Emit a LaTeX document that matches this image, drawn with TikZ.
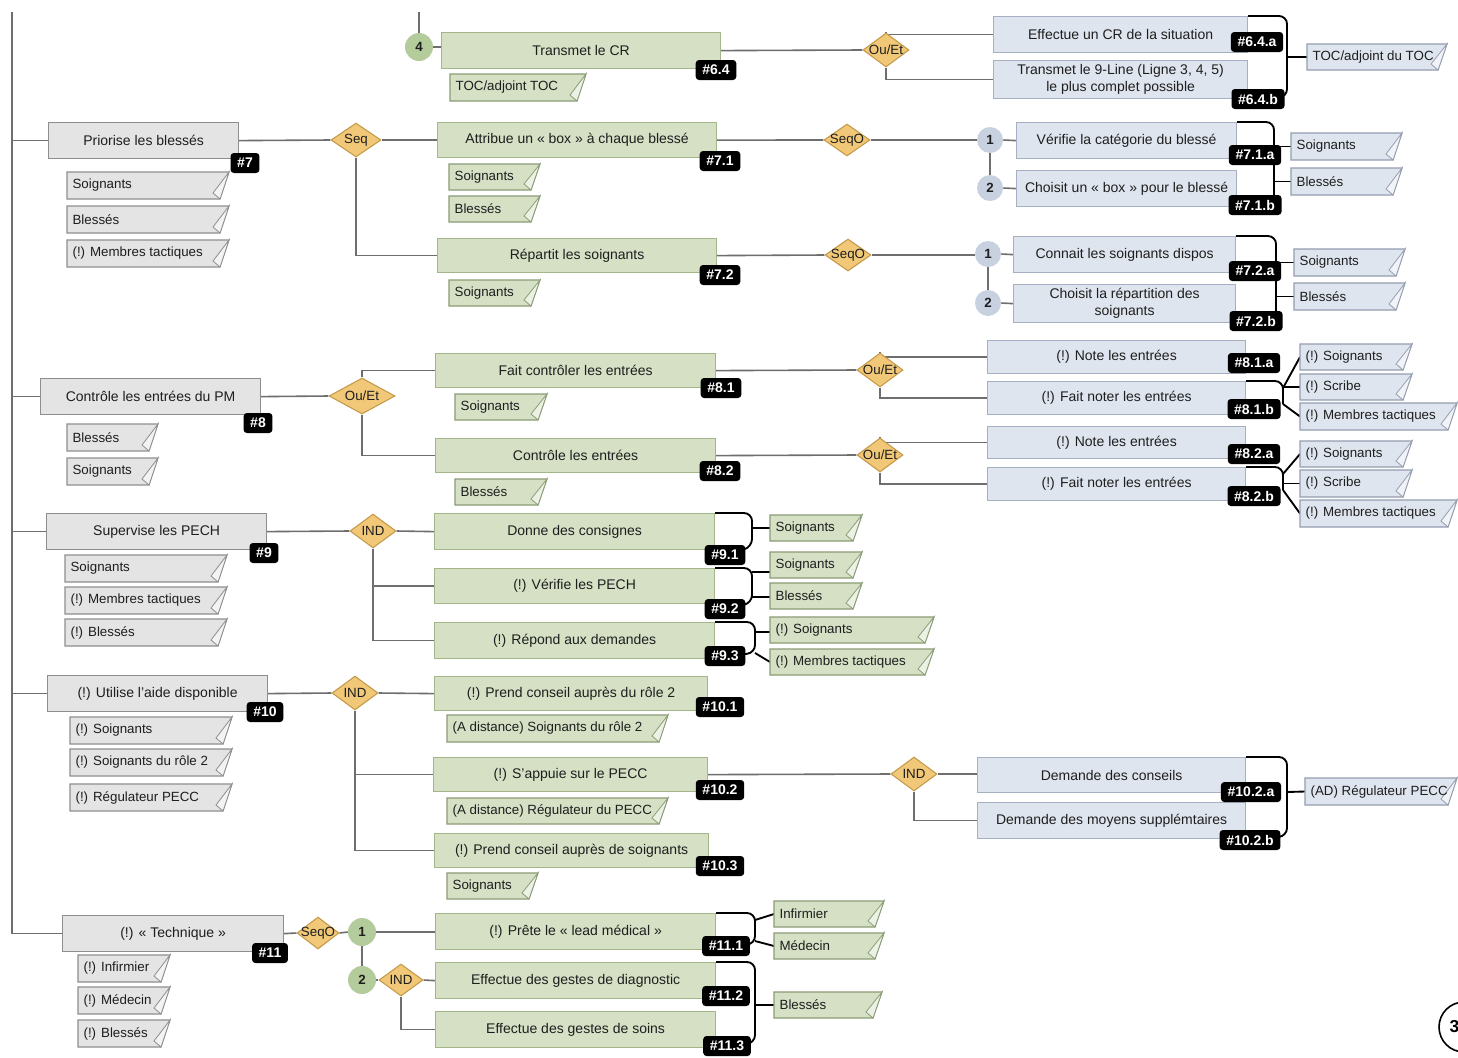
\documentclass[tikz,border=0pt]{standalone}
\usepackage{fontspec}
\setmainfont{Liberation Sans}
\usetikzlibrary{shapes.geometric}
\pgfdeclarelayer{bg}
\pgfsetlayers{bg,main}
\definecolor{gfill}{HTML}{D5E0C5}
\definecolor{gdraw}{HTML}{A3B68A}
\definecolor{bfill}{HTML}{DFE5EF}
\definecolor{bdraw}{HTML}{A6B0C2}
\definecolor{yfill}{HTML}{E4E4E4}
\definecolor{ydraw}{HTML}{8E8E8E}
\definecolor{dfill}{HTML}{F1C877}
\definecolor{ddraw}{HTML}{C49A4A}
\definecolor{cgreen}{HTML}{B4CC9C}
\definecolor{cblue}{HTML}{C7D1E0}
\definecolor{conncol}{HTML}{6E6E6E}
\definecolor{txt}{HTML}{1E1E1E}
\tikzset{
 box/.style={rectangle, inner sep=0pt, line width=0.9pt, font=\fontsize{10.5}{13}\selectfont, text=txt, align=center, anchor=north west},
 graybox/.style={box, fill=yfill, draw=ydraw},
 greenbox/.style={box, fill=gfill, draw=gdraw},
 bluebox/.style={box, fill=bfill, draw=bdraw},
 badge/.style={fill=black, rounded corners=2.5pt, text=white, font=\fontsize{10.5}{12}\selectfont\bfseries, inner xsep=5pt, inner ysep=1pt, minimum height=15pt},
 gate/.style={diamond, fill=dfill, draw=ddraw, line width=0.8pt, inner sep=0pt, font=\fontsize{10}{11}\selectfont, text=txt},
 gcirc/.style={circle, fill=cgreen, inner sep=0pt, minimum size=21pt, font=\fontsize{10}{12}\selectfont\bfseries, text=txt},
 bcirc/.style={circle, fill=cblue, inner sep=0pt, minimum size=19.5pt, font=\fontsize{10}{12}\selectfont\bfseries, text=txt},
 conn/.style={draw=conncol, line width=1.2pt},
 brace/.style={draw=black, line width=1.4pt, rounded corners=6pt},
 link/.style={draw=black, line width=1.4pt},
 tagtxt/.style={inner xsep=4pt, inner ysep=0pt, font=\fontsize{10}{12}\selectfont, text=txt},
 ytag/.style={fill=yfill, draw=ydraw, line width=0.8pt},
 gtag/.style={fill=gfill, draw=gdraw!85!black, line width=0.8pt},
 btag/.style={fill=bfill, draw=bdraw!90!black, line width=0.8pt},
 yfold/.style={fill=white!55!yfill, draw=ydraw, line width=0.6pt},
 gfold/.style={fill=white!55!gfill, draw=gdraw!85!black, line width=0.6pt},
 bfold/.style={fill=white!55!bfill, draw=bdraw!90!black, line width=0.6pt},
}
\newcommand\taskbox[7]{\node[#1, minimum width={(#5-#3)*0.75pt}, minimum height={(#6-#4)*0.75pt}] (#2) at (#3,#4) {#7};}
\newcommand\tagbox[7]{%
 \filldraw[#1tag] (#3,#4) -- (#5,#4) -- ({#5-9},#6) -- (#3,#6) -- cycle;
 \filldraw[#1fold] (#5,#4) -- ({#5-9},#6) -- ({#5-16},{#6-6}) -- cycle;
 \node[tagtxt, anchor=west] (#2) at (#3,{(#4+#6)/2}) {#7};}
\newcommand\gate[6]{\node[gate, minimum width=#4*0.75pt, minimum height=#5*0.75pt] (#1) at (#2,#3) {\makebox[0pt]{#6}};}
\begin{document}
\begin{tikzpicture}[x=0.75pt,y=-0.75pt]
\begin{pgfonlayer}{bg}
\fill[white] (0,0) rectangle (1458,1057);
\end{pgfonlayer}
\useasboundingbox (0,0) rectangle (1458,1057);

% ---------- gray main tasks
\taskbox{graybox}{p7}{48}{122}{238}{158}{Priorise les blessés}
\taskbox{graybox}{c8}{40}{378}{260}{414}{Contrôle les entrées du PM}
\taskbox{graybox}{s9}{46}{513}{266}{549}{Supervise les PECH}
\taskbox{graybox}{u10}{47}{675}{267}{711}{(!) Utilise l’aide disponible}
\taskbox{graybox}{t11}{62}{915}{283}{951}{(!) « Technique »}

% ---------- green subtasks
\taskbox{greenbox}{t64}{441}{32}{720}{68}{Transmet le CR}
\taskbox{greenbox}{a71}{437}{122}{716}{157}{Attribue un « box » à chaque blessé}
\taskbox{greenbox}{r72}{437}{238}{716}{272}{Répartit les soignants}
\taskbox{greenbox}{f81}{435}{353}{715}{387}{Fait contrôler les entrées}
\taskbox{greenbox}{c82}{435}{438}{715}{472}{Contrôle les entrées}
\taskbox{greenbox}{g91}{434}{513}{714}{549}{Donne des consignes}
\taskbox{greenbox}{g92}{434}{568}{714}{603}{(!) Vérifie les PECH}
\taskbox{greenbox}{g93}{434}{622}{714}{658}{(!) Répond aux demandes}
\taskbox{greenbox}{g101}{434}{676}{707}{710}{(!) Prend conseil auprès du rôle 2}
\taskbox{greenbox}{g102}{433}{757}{707}{791}{(!) S’appuie sur le PECC}
\taskbox{greenbox}{g103}{434}{833}{708}{867}{(!) Prend conseil auprès de soignants}
\taskbox{greenbox}{g111}{435}{913}{715}{949}{(!) Prête le « lead médical »}
\taskbox{greenbox}{g112}{435}{962}{715}{998}{Effectue des gestes de diagnostic}
\taskbox{greenbox}{g113}{435}{1011}{715}{1047}{Effectue des gestes de soins}

% ---------- blue sub-subtasks
\taskbox{bluebox}{e64a}{993}{16}{1247}{52}{Effectue un CR de la situation}
\taskbox{bluebox}{e64b}{993}{60}{1247}{98}{Transmet le 9-Line (Ligne 3, 4, 5)\\le plus complet possible}
\taskbox{bluebox}{v71a}{1016}{122}{1236}{158}{Vérifie la catégorie du blessé}
\taskbox{bluebox}{v71b}{1016}{170}{1236}{206}{Choisit un « box » pour le blessé}
\taskbox{bluebox}{v72a}{1013}{236}{1235}{272}{Connait les soignants dispos}
\taskbox{bluebox}{v72b}{1013}{284}{1235}{322}{Choisit la répartition des\\soignants}
\taskbox{bluebox}{n81a}{987}{340}{1245}{373}{(!) Note les entrées}
\taskbox{bluebox}{n81b}{987}{381}{1245}{414}{(!) Fait noter les entrées}
\taskbox{bluebox}{n82a}{987}{426}{1245}{458}{(!) Note les entrées}
\taskbox{bluebox}{n82b}{987}{467}{1245}{500}{(!) Fait noter les entrées}
\taskbox{bluebox}{v102a}{977}{757}{1245}{792}{Demande des conseils}
\taskbox{bluebox}{v102b}{977}{802}{1245}{838}{Demande des moyens supplémtaires}

% ---------- gates
\gate{d64}{886}{50}{46}{34}{Ou/Et}
\gate{d7}{356}{140}{50}{34}{Seq}
\gate{d71}{847}{140}{46}{32}{SeqO}
\gate{d72}{848}{255}{46}{32}{SeqO}
\gate{d8}{362}{396}{66}{36}{Ou/Et}
\gate{d81}{880}{370}{46}{34}{Ou/Et}
\gate{d82}{880}{455}{46}{34}{Ou/Et}
\gate{d9}{373}{531}{46}{34}{IND}
\gate{d10}{355}{693}{46}{34}{IND}
\gate{d102}{914}{774}{46}{34}{IND}
\gate{d11}{318}{933}{42}{32}{SeqO}
\gate{d112}{401}{980}{44}{32}{IND}

% ---------- circles
\node[gcirc] (c4) at (419,47) {4};
\node[bcirc] (c711) at (990,140) {1};
\node[bcirc] (c712) at (990,188) {2};
\node[bcirc] (c721) at (988,254) {1};
\node[bcirc] (c722) at (988,303) {2};
\node[gcirc] (c111) at (362,932) {1};
\node[gcirc] (c112) at (362,980) {2};
\node[circle, draw=black, line width=1.2pt, fill=white, minimum size=37.5pt, inner sep=0pt, font=\fontsize{13}{15}\selectfont\bfseries] (c3) at (1464,1027) {\makebox[0pt][r]{3\hspace{3.5pt}}};

% ---------- tags
\tagbox{g}{k64}{450}{74}{586}{101}{TOC/adjoint TOC}
\tagbox{b}{k64r}{1307}{44}{1447}{70}{TOC/adjoint du TOC}
\tagbox{y}{k7a}{67}{172}{229}{199}{Soignants}
\tagbox{y}{k7b}{67}{206}{229}{233}{Blessés}
\tagbox{y}{k7c}{67}{240}{229}{267}{(!) Membres tactiques}
\tagbox{g}{k71a}{449}{164}{540}{190}{Soignants}
\tagbox{g}{k71b}{449}{196}{540}{222}{Blessés}
\tagbox{b}{k71s}{1291}{133}{1402}{160}{Soignants}
\tagbox{b}{k71b2}{1291}{168}{1402}{195}{Blessés}
\tagbox{g}{k72a}{449}{280}{540}{306}{Soignants}
\tagbox{b}{k72s}{1294}{249}{1405}{276}{Soignants}
\tagbox{b}{k72b}{1294}{283}{1405}{310}{Blessés}
\tagbox{y}{k8a}{67}{424}{158}{451}{Blessés}
\tagbox{y}{k8b}{67}{458}{158}{485}{Soignants}
\tagbox{g}{k81}{455}{394}{547}{420}{Soignants}
\tagbox{g}{k82}{455}{479}{547}{505}{Blessés}
\tagbox{b}{k81s}{1300}{344}{1412}{370}{(!) Soignants}
\tagbox{b}{k81c}{1300}{374}{1412}{400}{(!) Scribe}
\tagbox{b}{k81m}{1300}{403}{1457}{430}{(!) Membres tactiques}
\tagbox{b}{k82s}{1300}{441}{1412}{467}{(!) Soignants}
\tagbox{b}{k82c}{1300}{470}{1412}{497}{(!) Scribe}
\tagbox{b}{k82m}{1300}{500}{1457}{527}{(!) Membres tactiques}
\tagbox{y}{k9a}{65}{555}{227}{582}{Soignants}
\tagbox{y}{k9b}{65}{587}{227}{614}{(!) Membres tactiques}
\tagbox{y}{k9c}{65}{619}{227}{646}{(!) Blessés}
\tagbox{g}{k91}{770}{515}{862}{541}{Soignants}
\tagbox{g}{k92s}{770}{552}{862}{578}{Soignants}
\tagbox{g}{k92b}{770}{583}{862}{609}{Blessés}
\tagbox{g}{k93s}{770}{617}{934}{643}{(!) Soignants}
\tagbox{g}{k93m}{770}{649}{934}{675}{(!) Membres tactiques}
\tagbox{y}{k10a}{70}{717}{232}{744}{(!) Soignants}
\tagbox{y}{k10b}{70}{749}{232}{776}{(!) Soignants du rôle 2}
\tagbox{y}{k10c}{70}{784}{232}{811}{(!) Régulateur PECC}
\tagbox{g}{k101}{447}{715}{668}{742}{(A distance) Soignants du rôle 2}
\tagbox{g}{k102}{447}{798}{668}{824}{(A distance) Régulateur du PECC}
\tagbox{g}{k103}{447}{873}{538}{899}{Soignants}
\tagbox{b}{k102r}{1305}{778}{1457}{805}{(AD) Régulateur PECC}
\tagbox{y}{k11a}{78}{955}{170}{982}{(!) Infirmier}
\tagbox{y}{k11b}{78}{987}{170}{1014}{(!) Médecin}
\tagbox{y}{k11c}{78}{1020}{170}{1047}{(!) Blessés}
\tagbox{g}{k111i}{774}{901}{884}{927}{Infirmier}
\tagbox{g}{k111m}{774}{933}{884}{959}{Médecin}
\tagbox{g}{k112}{774}{992}{882}{1018}{Blessés}

% ---------- badges
\node[badge] (b64) at (716,70) {\#6.4};
\node[badge] (b64a) at (1257,42) {\#6.4.a};
\node[badge] (b64b) at (1258,99) {\#6.4.b};
\node[badge] (b7) at (245,163) {\#7};
\node[badge] (b71) at (720,161) {\#7.1};
\node[badge] (b71a) at (1255,155) {\#7.1.a};
\node[badge] (b71b) at (1255,205) {\#7.1.b};
\node[badge] (b72) at (720,275) {\#7.2};
\node[badge] (b72a) at (1255,271) {\#7.2.a};
\node[badge] (b72b) at (1256,321) {\#7.2.b};
\node[badge] (b8) at (258,423) {\#8};
\node[badge] (b81) at (721,388) {\#8.1};
\node[badge] (b81a) at (1254,363) {\#8.1.a};
\node[badge] (b81b) at (1254,409) {\#8.1.b};
\node[badge] (b82) at (720,471) {\#8.2};
\node[badge] (b82a) at (1254,454) {\#8.2.a};
\node[badge] (b82b) at (1254,496) {\#8.2.b};
\node[badge] (b9) at (264,553) {\#9};
\node[badge] (b91) at (725,555) {\#9.1};
\node[badge] (b92) at (725,609) {\#9.2};
\node[badge] (b93) at (725,656) {\#9.3};
\node[badge] (b10) at (265,712) {\#10};
\node[badge] (b101) at (720,707) {\#10.1};
\node[badge] (b102) at (720,790) {\#10.2};
\node[badge] (b103) at (720,866) {\#10.3};
\node[badge] (b102a) at (1251,792) {\#10.2.a};
\node[badge] (b102b) at (1250,840) {\#10.2.b};
\node[badge] (b11) at (270,953) {\#11};
\node[badge] (b111) at (726,946) {\#11.1};
\node[badge] (b112) at (726,996) {\#11.2};
\node[badge] (b113) at (727,1046) {\#11.3};

% ---------- connectors and braces (behind)
\begin{pgfonlayer}{bg}
\coordinate (sp) at (12,12);
\coordinate (top4) at (419,12);
\draw[conn] (sp) |- (t11.west);
\draw[conn] (p7.west -| sp) -- (p7.west);
\draw[conn] (c8.west -| sp) -- (c8.west);
\draw[conn] (s9.west -| sp) -- (s9.west);
\draw[conn] (u10.west -| sp) -- (u10.west);
% 6.4
\draw[conn] (top4) -- (c4.north);
\draw[conn] (c4.east) -- (c4.east -| t64.west);
\draw[conn] (t64.east) -- (d64.west);
\draw[conn] (d64.north) |- (e64a.west);
\draw[conn] (d64.south) |- (e64b.west);
% 7
\draw[conn] (p7.east) -- (d7.west);
\draw[conn] (d7.east) -- (d7.east -| a71.west);
\draw[conn] (d7.south) |- (r72.west);
\draw[conn] (a71.east) -- (d71.west);
\draw[conn] (d71.east) -- (c711.west);
\draw[conn] (c711.east) -- (v71a.west);
\draw[conn] (c711.south) -- (c712.north);
\draw[conn] (c712.east) -- (v71b.west);
\draw[conn] (r72.east) -- (d72.west);
\draw[conn] (d72.east) -- (d72.east -| c721.west);
\draw[conn] (c721.east) -- (v72a.west);
\draw[conn] (c721.south) -- (c722.north);
\draw[conn] (c722.east) -- (v72b.west);
% 8
\draw[conn] (c8.east) -- (d8.west);
\draw[conn] (d8.north) |- (f81.west);
\draw[conn] (d8.south) |- (c82.west);
\draw[conn] (f81.east) -- (d81.west);
\draw[conn] (d81.north) |- (n81a.west);
\draw[conn] (d81.south) |- (n81b.west);
\draw[conn] (c82.east) -- (d82.west);
\draw[conn] (d82.north) |- (n82a.west);
\draw[conn] (d82.south) |- (n82b.west);
% 9
\draw[conn] (s9.east) -- (d9.west);
\draw[conn] (d9.east) -- (g91.west);
\draw[conn] (d9.south) |- (g92.west);
\draw[conn] (d9.south) |- (g93.west);
% 10
\draw[conn] (u10.east) -- (d10.west);
\draw[conn] (d10.east) -- (g101.west);
\draw[conn] (d10.south) |- (g102.west);
\draw[conn] (d10.south) |- (g103.west);
\draw[conn] (g102.east) -- (d102.west);
\draw[conn] (d102.east) -- (d102.east -| v102a.west);
\draw[conn] (d102.south) |- (v102b.west);
% 11
\draw[conn] (t11.east) -- (d11.west);
\draw[conn] (d11.east) -- (c111.west);
\draw[conn] (c111.east) -- (c111.east -| g111.west);
\draw[conn] (c111.south) -- (c112.north);
\draw[conn] (c112.east) -- (d112.west);
\draw[conn] (d112.east) -- (g112.west);
\draw[conn] (d112.south) |- (g113.west);

% braces
\coordinate (j64) at (1287,57);
\draw[brace] (e64a.north east) -- (1287,16) -- (1287,97) -- (b64b.center);
\draw[link] (j64) -- (k64r.west);

\coordinate (j71a) at (1274,146.5);
\coordinate (j71b) at (1274,181.5);
\draw[brace] (v71a.north east) -- (1274,122) -- (1274,203) -- (b71b.center);
\draw[link] (j71a) -- (k71s.west);
\draw[link] (j71b) -- (k71b2.west);

\coordinate (j72a) at (1276,262.5);
\coordinate (j72b) at (1276,296.5);
\draw[brace] (v72a.north east) -- (1276,236) -- (1276,318) -- (b72b.center);
\draw[link] (j72a) -- (k72s.west);
\draw[link] (j72b) -- (k72b.west);

\coordinate (j81a) at (1283,388);
\coordinate (j81b) at (1283,404);
\draw[brace] (n81b.north east) -- (1283,381) -- (j81b);
\draw[link] (j81a) -- (k81s.west);
\draw[link] (j81a |- k81c.west) -- (k81c.west);
\draw[link] (j81b) -- (k81m.west);

\coordinate (j82a) at (1283,474);
\coordinate (j82b) at (1283,490);
\draw[brace] (n82b.north east) -- (1283,467) -- (j82b);
\draw[link] (j82a) -- (k82s.west);
\draw[link] (j82a |- k82c.west) -- (k82c.west);
\draw[link] (j82b) -- (k82m.west);

\coordinate (j91) at (752,528);
\draw[brace] (g91.north east) -- (752,513) -- (752,547) -- (b91.center);
\draw[link] (j91) -- (j91 -| k91.west);

\coordinate (j92a) at (752,572);
\coordinate (j92b) at (752,597);
\draw[brace] (g92.north east) -- (752,568) -- (752,603) -- (b92.center);
\draw[link] (j92a) -- (j92a -| k92s.west);
\draw[link] (j92b) -- (j92b -| k92b.west);

\coordinate (j93a) at (755,632);
\coordinate (j93b) at (755,653);
\draw[brace] (g93.north east) -- (755,622) -- (755,653) -- (b93.center);
\draw[link] (j93a) -- (j93a -| k93s.west);
\draw[link] (j93b) -- (k93m.west);

\coordinate (j102) at (1287,792);
\draw[brace] (v102a.north east) -- (1287,757) -- (1287,836) -- (b102b.center);
\draw[link] (j102) -- (k102r.west);

\coordinate (j111a) at (755,920);
\coordinate (j111b) at (755,941);
\draw[brace] (g111.north east) -- (755,913) -- (755,944) -- (b111.center);
\draw[link] (j111a) -- (k111i.west);
\draw[link] (j111b) -- (k111m.west);

\coordinate (j112) at (755,1005);
\draw[brace] (g112.north east) -- (755,962) -- (755,1043) -- (b113.center);
\draw[link] (j112) -- (k112.west);
\end{pgfonlayer}
\end{tikzpicture}
\end{document}
